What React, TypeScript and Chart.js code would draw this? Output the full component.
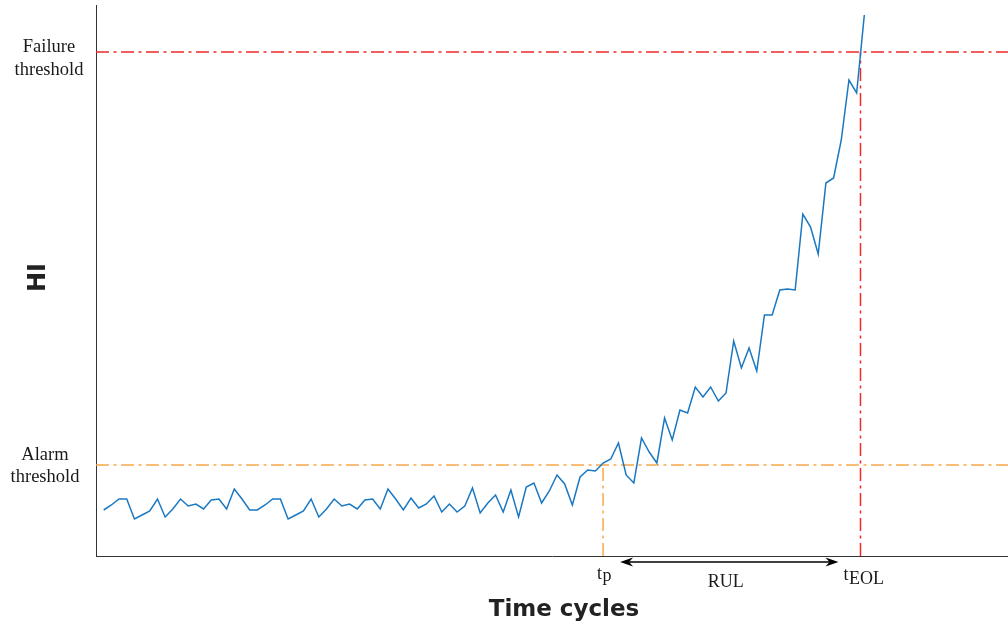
import React, { useEffect, useRef } from 'react';
import { Chart, registerables } from 'chart.js';

Chart.register(...registerables);

// Health indicator values, one per time cycle (index = cycle)
const HI_VALUES = [
  46, 51, 57, 57, 37, 41, 45, 57, 39, 47,
  57, 50, 52, 47, 56, 57, 47, 67, 57, 46,
  46, 51, 57, 57, 37, 41, 45, 57, 39, 47,
  57, 50, 52, 47, 56, 57, 47, 67, 57, 46,
  58, 48, 52, 60, 44, 52, 44, 50, 68, 43,
  53, 61, 44, 66, 39, 69, 73, 53, 65, 81,
  72, 51, 79, 86, 85, 93, 97, 113, 81, 73,
  118, 104, 93, 138, 116, 146, 143, 169, 159, 169,
  155, 163, 215, 188, 208, 185, 241, 241, 266, 267,
  266, 342, 329, 302, 373, 378, 416, 476, 463, 541,
];

const FAILURE_THRESHOLD = 504;
const ALARM_THRESHOLD = 91;
const T_P = 65;
const T_EOL = 98.5;
const X_RANGE = [-1, 117.7];
const Y_RANGE = [0, 551];

const FAILURE_LABEL = ['Failure', 'threshold'];
const ALARM_LABEL = ['Alarm', 'threshold'];
const Y_TITLE = 'HI';
const X_TITLE = 'Time cycles';
const RUL_LABEL = 'RUL';

const BLUE = '#1a78c2';
const RED = '#ee2a2a';
const ORANGE = '#f9a84a';
const DASH = [13, 4.5, 3, 4.5];

const annotPlugin = {
  id: 'annot',
  afterDraw(chart: any) {
    const { ctx, chartArea, scales } = chart;
    const x = scales.x;
    const y = scales.y;
    ctx.save();
    ctx.fillStyle = '#1a1a1a';
    ctx.textAlign = 'center';
    ctx.textBaseline = 'middle';
    ctx.font = '18.5px "Liberation Serif", "Times New Roman", serif';
    const fy = y.getPixelForValue(FAILURE_THRESHOLD);
    ctx.fillText(FAILURE_LABEL[0], 49, fy - 5);
    ctx.fillText(FAILURE_LABEL[1], 49, fy + 18);
    const ay = y.getPixelForValue(ALARM_THRESHOLD);
    ctx.fillText(ALARM_LABEL[0], 45, ay - 10);
    ctx.fillText(ALARM_LABEL[1], 45, ay + 12);

    // Y title
    ctx.save();
    ctx.translate(39, (chartArea.top + chartArea.bottom) / 2 - 3);
    ctx.rotate(-Math.PI / 2);
    ctx.font = 'bold 24px "DejaVu Sans", sans-serif';
    ctx.fillStyle = '#222';
    ctx.fillText(Y_TITLE, 0, 0);
    ctx.restore();

    // X title
    ctx.font = 'bold 23px "DejaVu Sans", sans-serif';
    ctx.fillStyle = '#222';
    ctx.fillText(X_TITLE, 564, 610);

    // tp / tEOL labels
    const px = x.getPixelForValue(T_P);
    const ex = x.getPixelForValue(T_EOL);
    ctx.fillStyle = '#1a1a1a';
    ctx.textBaseline = 'alphabetic';
    ctx.textAlign = 'left';
    ctx.font = '18px "Liberation Serif", "Times New Roman", serif';
    ctx.fillText('t', px - 6, 579);
    const tw = ctx.measureText('t').width;
    ctx.fillText('p', px - 6 + tw + 0.5, 581);
    ctx.fillText('t', ex - 17, 580);
    ctx.fillText('EOL', ex - 17 + tw + 0.5, 584);
    ctx.textAlign = 'center';
    ctx.fillText(RUL_LABEL, (px + ex) / 2 - 6, 587);

    // Double arrow
    const x1 = px + 17;
    const x2 = ex - 22;
    const ayy = 562;
    ctx.strokeStyle = '#000';
    ctx.lineWidth = 1.6;
    ctx.beginPath();
    ctx.moveTo(x1 + 4, ayy);
    ctx.lineTo(x2 - 4, ayy);
    ctx.stroke();
    ctx.fillStyle = '#000';
    ctx.beginPath();
    ctx.moveTo(x1, ayy);
    ctx.lineTo(x1 + 13, ayy - 4.5);
    ctx.lineTo(x1 + 9, ayy);
    ctx.lineTo(x1 + 13, ayy + 4.5);
    ctx.closePath();
    ctx.fill();
    ctx.beginPath();
    ctx.moveTo(x2, ayy);
    ctx.lineTo(x2 - 13, ayy - 4.5);
    ctx.lineTo(x2 - 9, ayy);
    ctx.lineTo(x2 - 13, ayy + 4.5);
    ctx.closePath();
    ctx.fill();
    ctx.restore();
  },
};

export default function App() {
  const ref = useRef<HTMLCanvasElement | null>(null);
  useEffect(() => {
    if (!ref.current) return;
    const seg = (pts: { x: number; y: number }[], color: string, width: number) => ({
      data: pts,
      borderColor: color,
      borderWidth: width,
      borderDash: DASH,
      pointRadius: 0,
      fill: false,
      tension: 0,
    });
    const chart = new Chart(ref.current, {
      type: 'line',
      data: {
        datasets: [
          {
            data: HI_VALUES.map((v, i) => ({ x: i, y: v })),
            borderColor: BLUE,
            borderWidth: 1.5,
            pointRadius: 0,
            fill: false,
            tension: 0,
          },
          seg([{ x: X_RANGE[0], y: FAILURE_THRESHOLD }, { x: X_RANGE[1], y: FAILURE_THRESHOLD }], RED, 1.3),
          seg([{ x: X_RANGE[0], y: ALARM_THRESHOLD }, { x: X_RANGE[1], y: ALARM_THRESHOLD }], ORANGE, 1.5),
          seg([{ x: T_P, y: Y_RANGE[0] }, { x: T_P, y: ALARM_THRESHOLD }], ORANGE, 1.5),
          seg([{ x: T_EOL, y: Y_RANGE[0] }, { x: T_EOL, y: FAILURE_THRESHOLD }], RED, 1.5),
        ] as any,
      },
      options: {
        animation: false,
        responsive: false,
        maintainAspectRatio: false,
        layout: { padding: { top: 5, left: 0, right: 0, bottom: 0 } },
        plugins: { legend: { display: false }, tooltip: { enabled: false } },
        scales: {
          x: {
            type: 'linear',
            min: X_RANGE[0],
            max: X_RANGE[1],
            grid: { display: false },
            border: { display: true, color: '#333', width: 1 },
            ticks: { display: false },
            afterFit: (s: any) => { s.height = 69; },
          },
          y: {
            type: 'linear',
            min: Y_RANGE[0],
            max: Y_RANGE[1],
            grid: { display: false },
            border: { display: true, color: '#333', width: 1 },
            ticks: { display: false },
            afterFit: (s: any) => { s.width = 96; },
          },
        },
      } as any,
      plugins: [annotPlugin],
    });
    return () => chart.destroy();
  }, []);
  return (
    <div style={{ position: 'fixed', left: 0, top: 0, width: 1008, height: 625, background: '#fff' }}>
      <canvas ref={ref} width={1008} height={625} style={{ display: 'block', width: 1008, height: 625 }} />
    </div>
  );
}
